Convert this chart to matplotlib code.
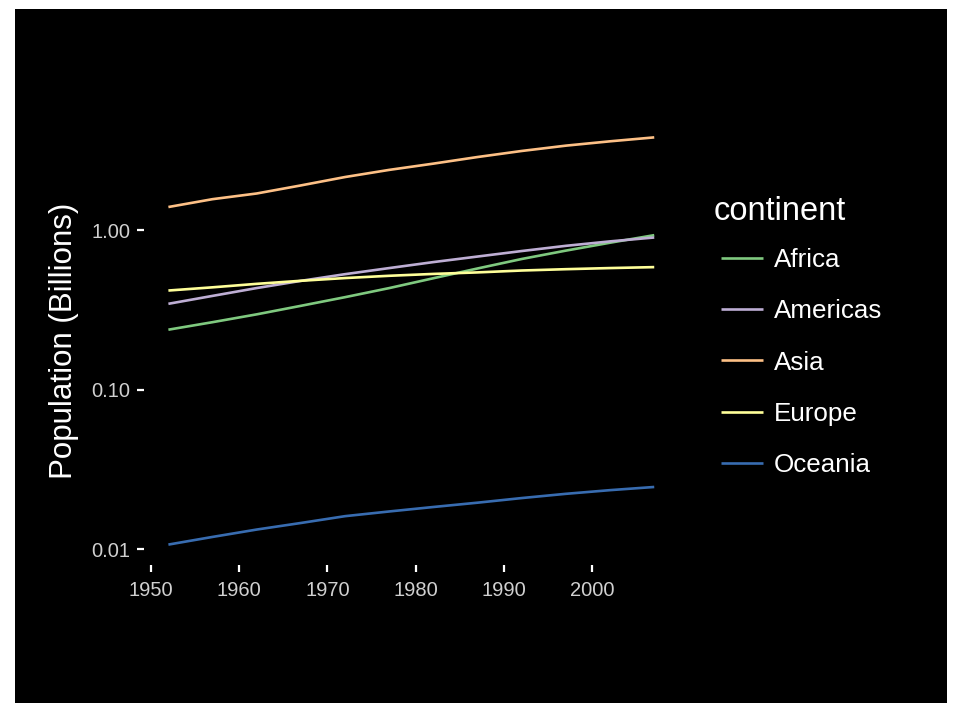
import matplotlib
matplotlib.use("Agg")
import matplotlib.pyplot as plt
from matplotlib.patches import Rectangle

plt.rcParams["font.family"] = ["Liberation Sans", "DejaVu Sans"]

# total population by continent, billions
years = [1952, 1957, 1962, 1967, 1972, 1977, 1982, 1987, 1992, 1997, 2002, 2007]
africa = [0.2376, 0.2648, 0.2965, 0.3353, 0.3799, 0.4331, 0.4993, 0.5748, 0.6591, 0.7438, 0.8337, 0.9295]
americas = [0.3452, 0.3870, 0.4333, 0.4807, 0.5294, 0.5781, 0.6303, 0.6828, 0.7393, 0.7969, 0.8498, 0.8989]
asia = [1.3954, 1.5628, 1.6964, 1.9057, 2.1510, 2.3845, 2.6101, 2.8712, 3.1333, 3.3833, 3.6018, 3.8120]
europe = [0.4181, 0.4379, 0.4604, 0.4812, 0.5006, 0.5172, 0.5313, 0.5431, 0.5581, 0.5689, 0.5782, 0.5861]
oceania = [0.01069, 0.01194, 0.01328, 0.01460, 0.01611, 0.01724, 0.01839, 0.01957, 0.02092, 0.02224, 0.02345, 0.02455]

continents = ["Africa", "Americas", "Asia", "Europe", "Oceania"]
series = [africa, americas, asia, europe, oceania]
colors = ["#7FC97F", "#BEAED4", "#FDC086", "#FFFF99", "#386CB0"]

y_ticks = [0.01, 0.1, 1.0]
y_labels = ["0.01", "0.10", "1.00"]
x_ticks = [1950, 1960, 1970, 1980, 1990, 2000]

fig = plt.figure(figsize=(9.55, 7.03), dpi=100, facecolor="white")
fig.patches.append(Rectangle((15 / 955, 0), 932 / 955, 694 / 703,
                             transform=fig.transFigure, facecolor="black",
                             edgecolor="none", zorder=-10))

ax = fig.add_axes([0.1509, 0.1963, 0.5596, 0.6373])
ax.set_facecolor("none")
for sp in ax.spines.values():
    sp.set_visible(False)

for name, vals, c in zip(continents, series, colors):
    ax.plot(years, vals, color=c, lw=1.9, label=name, solid_capstyle="butt")

ax.set_yscale("log")
ax.set_xlim(1949.25, 2009.75)
ax.set_ylim(10 ** -2.099, 10 ** 0.709)
ax.set_yticks(y_ticks)
ax.set_yticklabels(y_labels)
ax.minorticks_off()
ax.set_xticks(x_ticks)
ax.tick_params(axis="both", colors="white", length=5, width=1.6, pad=5,
               labelsize=14.5, labelcolor="#d0d0d0")
ax.tick_params(axis="x", pad=6.5)

ax.set_ylabel("Population (Billions)", color="white", fontsize=22.5, labelpad=9)

# legend title placed on its own so it sits slightly left of the keys
fig.text(714 / 955, 1 - 211 / 703, "continent", color="white",
         fontsize=23.5, ha="left", va="center")
leg = ax.legend(loc="upper left",
                bbox_to_anchor=(721 / 955, 1 - 248 / 703),
                bbox_transform=fig.transFigure, frameon=False,
                fontsize=18.7, handlelength=1.6, borderpad=0,
                handletextpad=0.42, labelspacing=1.05, borderaxespad=0)
for t in leg.get_texts():
    t.set_color("white")

fig.savefig("out.png", dpi=100, facecolor=fig.get_facecolor())
